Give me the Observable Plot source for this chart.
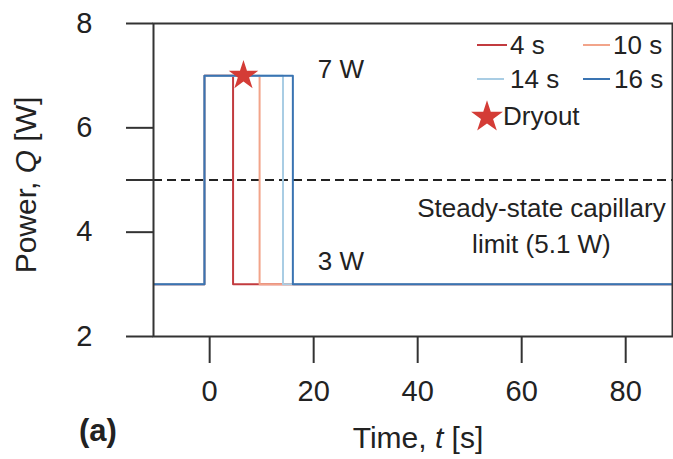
<!DOCTYPE html>
<html>
<head>
<meta charset="utf-8">
<script src="https://cdn.jsdelivr.net/npm/d3@7"></script>
<script src="https://cdn.jsdelivr.net/npm/@observablehq/plot@0.6"></script>
<style>
  html, body { margin: 0; padding: 0; background: #fff; overflow: hidden; }
  svg { display: block; }
</style>
</head>
<body>
<div id="chart"></div>
<script>
// ---- data ----
const seriesNames = ["4 s", "10 s", "14 s", "16 s"];
const seriesColors = ["#c23b3f", "#f2a48a", "#a9cde4", "#3a74b2"];
const pulseStart = -1.0;                 // s, step up to peak power
const pulseEnd = [4.5, 9.6, 14.1, 16.0]; // s, step back down
const baseQ = 3;                         // W
const peakQ = 7;                         // W
const tStart = -12, tEnd = 92;
const capillaryLimit = 5;                // dashed line level (labelled 5.1 W)
const dryout = [{t: 6.5, Q: 7}];
const xTicks = [0, 20, 40, 60, 80];
const yTicks = [2, 4, 5, 6, 8];

// step points per series (step-after curve)
const rows = [];
seriesNames.forEach((s, i) => {
  rows.push({s, t: tStart, Q: baseQ});
  rows.push({s, t: pulseStart, Q: peakQ});
  rows.push({s, t: pulseEnd[i], Q: baseQ});
  rows.push({s, t: tEnd, Q: baseQ});
});

const ink = "#222";
const font = "'Liberation Sans', Arial, sans-serif";
const starR = 9.3;

const chart = Plot.plot({
  width: 673,
  height: 459,
  marginLeft: 153,
  marginRight: 1,
  marginTop: 23,
  marginBottom: 123,
  style: {fontFamily: font, background: "#fff", color: ink},
  x: {domain: [-10.8, 89], ticks: xTicks},
  y: {domain: [2, 8], ticks: yTicks},
  color: {domain: seriesNames, range: seriesColors},
  marks: [
    Plot.ruleY([capillaryLimit], {stroke: ink, strokeWidth: 2, strokeDasharray: "9,5"}),
    Plot.line(rows, {x: "t", y: "Q", z: "s", stroke: "s", curve: "step-after", strokeWidth: 2, clip: true}),
    Plot.dot(dryout, {x: "t", y: "Q", symbol: "star", r: starR, fill: "#d43c36", stroke: "none"}),
    Plot.text(["7 W"], {x: 20.8, y: peakQ, text: d => d, textAnchor: "start", lineAnchor: "bottom", dy: 2, fontSize: 26, fill: ink}),
    Plot.text(["3 W"], {x: 20.8, y: baseQ, text: d => d, textAnchor: "start", lineAnchor: "bottom", dy: -14.5, fontSize: 26, fill: ink}),
    Plot.text(["Steady-state capillary\nlimit (5.1 W)"], {x: 63.8, y: capillaryLimit, text: d => d, textAnchor: "middle", lineAnchor: "top", dy: 12.5, lineHeight: 1.35, fontSize: 26, fill: ink}),
    Plot.frame({stroke: "#333", strokeWidth: 2}),
    Plot.axisY({ticks: yTicks, tickFormat: d => d === 5 ? "" : d, tickSize: 27, tickPadding: 34, fontSize: 29, label: null, stroke: "#333", strokeWidth: 2}),
    Plot.axisX({ticks: xTicks, tickSize: 27, tickPadding: 17, fontSize: 29, label: null, stroke: "#333", strokeWidth: 2})
  ]
});

document.getElementById("chart").appendChild(chart);

// ---- titles and legend ----
const svg = d3.select(chart);

const xl = svg.append("text").attr("x", 418).attr("y", 448).attr("text-anchor", "middle")
  .attr("font-size", 30).attr("font-family", font).attr("fill", ink);
xl.append("tspan").text("Time, ");
xl.append("tspan").attr("font-style", "italic").text("t");
xl.append("tspan").text(" [s]");

const yl = svg.append("text").attr("transform", "translate(36,185) rotate(-90)").attr("text-anchor", "middle")
  .attr("font-size", 30).attr("font-family", font).attr("fill", ink);
yl.append("tspan").text("Power, ");
yl.append("tspan").attr("font-style", "italic").text("Q");
yl.append("tspan").text(" [W]");

svg.append("text").attr("x", 79).attr("y", 441).attr("text-anchor", "start").attr("font-size", 31).attr("font-weight", "bold")
  .attr("font-family", font).attr("fill", ink).text("(a)");

const legendPos = [
  {x1: 477, x2: 507, y: 45, tx: 510},
  {x1: 583, x2: 610, y: 45, tx: 613},
  {x1: 477, x2: 504, y: 79, tx: 510},
  {x1: 583, x2: 610, y: 79, tx: 614}
];
const lg = svg.append("g").attr("font-family", font).attr("font-size", 26).attr("fill", ink).attr("text-anchor", "start");
seriesNames.forEach((s, i) => {
  const p = legendPos[i];
  lg.append("line").attr("x1", p.x1).attr("x2", p.x2).attr("y1", p.y).attr("y2", p.y)
    .attr("stroke", seriesColors[i]).attr("stroke-width", 2);
  lg.append("text").attr("x", p.tx).attr("y", p.y).attr("dy", "0.35em").attr("text-anchor", "start").text(s);
});
lg.append("path").attr("d", d3.symbol(d3.symbolStar, Math.PI * 10 * 10)())
  .attr("transform", "translate(487,117)").attr("fill", "#d43c36");
lg.append("text").attr("x", 503).attr("y", 116).attr("dy", "0.35em").attr("text-anchor", "start").text("Dryout");
</script>
</body>
</html>
